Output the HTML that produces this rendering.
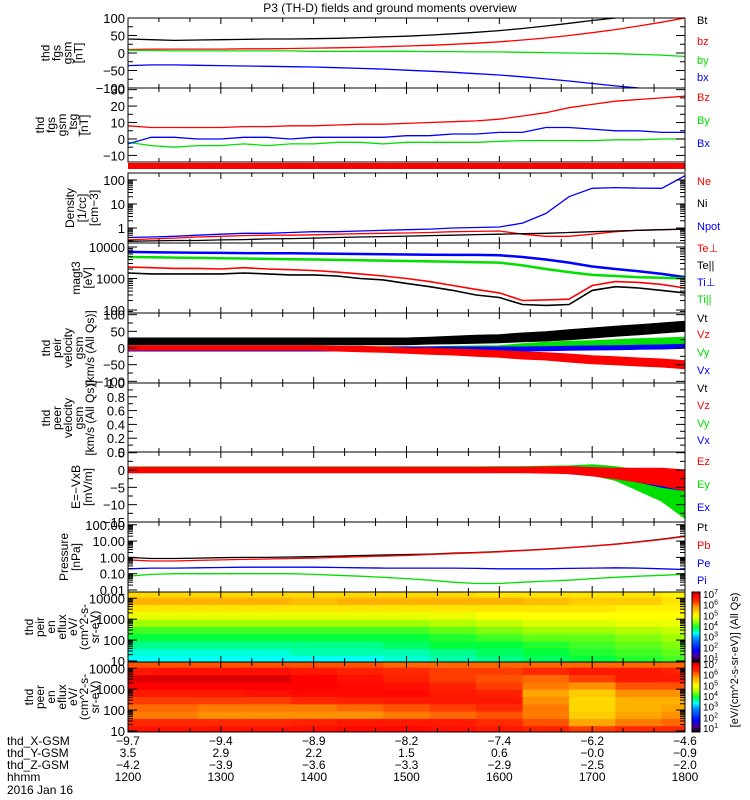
<!DOCTYPE html>
<html><head><meta charset="utf-8"><style>
html,body{margin:0;padding:0;background:#fff}
svg{display:block;font-family:"Liberation Sans",sans-serif}
</style></head><body>
<svg id="chart" width="750" height="800" xmlns="http://www.w3.org/2000/svg">
<text x="390" y="12" font-size="12" text-anchor="middle">P3 (TH-D) fields and ground moments overview</text>
</svg>
<script>
const times=[12,12.25,12.5,12.75,13,13.25,13.5,13.75,14,14.25,14.5,14.75,15,15.25,15.5,15.75,16,16.25,16.5,16.75,17,17.25,17.5,17.75,18];
// panel 1 fgs
const Bt=[40,38,36,37,38,39,40,40,41,42,44,46,48,51,55,59,64,70,77,85,93,100,108,115,122];
const bz=[10,11,11,11,11,12,12,13,14,15,16,18,20,22,25,28,32,37,43,50,58,67,77,88,100];
const by=[8,7,6,6,6,6,6,6,5,5,5,5,5,4,4,3,3,2,1,0,-1,-2,-4,-6,-10];
const bx=[-36,-34,-34,-35,-36,-37,-38,-39,-40,-42,-44,-46,-49,-52,-55,-59,-63,-68,-74,-80,-87,-94,-100,-106,-112];
// panel 2
const Bz2=[8,7,7,7,7,7.5,7.5,8,8,8.5,9,9,9.5,10,10.5,11,12,14,16,19,21,23,24,25,26];
const By2=[-2,-4,-5,-4,-4,-3,-4,-3,-3,-2,-2,-3,-2,-2,-2,-2,-1.5,-1,-1,-1,-1,-0.5,-0.5,0,0];
const Bx2=[-3,1,1,0,0,1,1,0,1,1,1,1,2,2,3,3,4,4,7,7,6,5,5,4,4];
// density
const Ne=[0.32,0.35,0.38,0.42,0.45,0.48,0.5,0.5,0.52,0.55,0.58,0.6,0.62,0.65,0.7,0.72,0.75,0.55,0.45,0.45,0.55,0.7,0.8,0.85,0.9];
const Ni=[0.28,0.29,0.3,0.3,0.32,0.33,0.35,0.36,0.38,0.4,0.42,0.44,0.46,0.48,0.5,0.53,0.55,0.58,0.6,0.65,0.7,0.75,0.8,0.85,0.9];
const Npot=[0.4,0.42,0.45,0.5,0.55,0.6,0.6,0.65,0.7,0.7,0.75,0.8,0.85,0.9,1.0,1.05,1.1,1.6,4,20,45,48,46,45,150];
// temperatures
const TePerp=[2300,2200,2100,2100,2000,2200,2000,1900,1800,1600,1400,1200,1000,800,600,450,350,200,210,220,600,800,750,650,500];
const TePar=[1500,1400,1400,1400,1400,1500,1400,1300,1300,1200,1000,900,700,550,420,300,250,150,140,150,420,550,500,420,350];
const TiPerp=[7000,6800,6700,6600,6500,6400,6300,6300,6200,6100,6000,5900,5800,5700,5600,5600,5500,4800,4000,3200,2400,2000,1700,1400,1100];
const TiPar=[4800,4700,4600,4500,4400,4300,4200,4100,4000,3900,3800,3700,3600,3500,3400,3300,3200,2600,2000,1600,1300,1200,1100,1050,1000];
// ion velocity (center and noise amplitude)
const Vt=[20,20,20,20,20,20,20,20,20,20,20,20,20,22,24,26,28,32,35,40,45,50,55,60,65];
const VtAmp=[10,10,10,10,10,10,10,10,10,10,10,10,10,10,11,12,12,13,14,15,15,15,15,15,15];
const Vz=[0,0,0,0,0,0,0,0,0,-2,-3,-5,-8,-10,-12,-15,-18,-22,-25,-30,-35,-38,-42,-45,-50];
const VzAmp=[7,7,7,7,7,7,7,7,7,7,8,8,8,9,9,10,10,11,11,12,12,12,12,12,12];
const Vy=[0,0,0,0,0,0,0,0,0,0,0,0,0,0,0,0,0,5,8,10,12,15,18,20,22];
const VyAmp=[4,4,4,4,4,4,4,4,4,4,4,4,4,4,5,6,7,8,9,10,10,10,10,10,10];
const Vx=[-3,-3,-3,-3,-3,-3,-3,-3,-3,-3,-3,-3,-3,-3,-3,-3,-3,-3,-2,-1,0,1,2,3,5];
const VxAmp=[6,6,6,6,6,6,6,6,6,6,6,6,6,6,6,6,6,6,6,6,6,6,6,6,6];
// E field
const Ez=[0,0,0,0,0,0,0,0,0,0,0,0,0,0,0,0,0,0,0,0,-0.5,-1,-1.5,-2,-3];
const EzAmp=[0.8,0.8,0.8,0.8,0.8,0.8,0.8,0.8,0.8,0.8,0.8,0.8,0.8,0.8,0.8,0.8,0.8,0.8,0.9,1,1.2,1.5,2,2.5,3];
const Ey=[0.5,0.5,0.5,0.5,0.5,0.5,0.5,0.5,0.5,0.5,0.5,0.5,0.5,0.5,0.5,0.5,0.5,0.4,0.3,0.2,0,-1,-3,-5,-9];
const EyAmp=[0.4,0.4,0.4,0.4,0.4,0.4,0.4,0.4,0.4,0.4,0.4,0.4,0.4,0.4,0.4,0.4,0.5,0.6,0.8,1,1.5,2,3,4,5];
const Ex=[0,0,0,0,0,0,0,0,0,0,0,0,0,0,0,0,0,0,0,-0.3,-0.6,-1,-2,-3,-4];
const ExAmp=[0.3,0.3,0.3,0.3,0.3,0.3,0.3,0.3,0.3,0.3,0.3,0.3,0.3,0.3,0.3,0.3,0.4,0.5,0.6,0.8,1,1.2,1.5,2,2];
// pressure
const Pt=[1.0,0.85,0.85,0.9,0.95,1.0,1.0,1.05,1.1,1.2,1.3,1.4,1.5,1.6,1.8,2.0,2.3,2.7,3.2,4,5,6.5,9,13,20];
const Pb=[0.7,0.6,0.6,0.65,0.7,0.75,0.8,0.85,0.9,1.0,1.1,1.2,1.3,1.5,1.7,1.9,2.2,2.6,3.1,3.9,4.9,6.3,8.8,12.5,19];
const Pe=[0.2,0.22,0.22,0.23,0.24,0.25,0.25,0.25,0.25,0.24,0.23,0.22,0.22,0.22,0.22,0.21,0.2,0.2,0.2,0.21,0.22,0.23,0.22,0.2,0.18];
const Pi=[0.07,0.09,0.1,0.1,0.1,0.1,0.1,0.1,0.09,0.08,0.07,0.06,0.05,0.04,0.03,0.025,0.025,0.03,0.035,0.04,0.05,0.06,0.07,0.08,0.09];
// spectrograms: columns every 0.5 h, rows high->low energy (log10 eV)
const specTimes=[12,12.5,13,13.5,14,14.5,15,15.5,16,16.5,17,17.5,18];
const specEnergies=[4.2,3.85,3.5,3.15,2.8,2.45,2.1,1.75,1.4,1.05];
const ionFlux=[
[5.3,5.3,5.3,5.3,5.3,5.3,5.3,5.3,5.2,5.2,5.2,5.2,5.1],
[5.6,5.6,5.6,5.6,5.5,5.6,5.6,5.6,5.6,5.5,5.4,5.4,5.2],
[5.2,5.2,5.2,5.2,5.2,5.2,5.2,5.2,5.2,5.2,5.2,5.1,5.1],
[4.9,4.9,4.9,4.9,4.9,4.9,4.9,4.9,5.0,5.0,5.0,5.0,5.0],
[4.5,4.5,4.5,4.5,4.5,4.5,4.5,4.6,4.7,4.8,4.8,4.9,4.9],
[4.2,4.2,4.2,4.2,4.2,4.2,4.2,4.3,4.4,4.5,4.5,4.6,4.7],
[4.0,4.0,4.0,4.0,4.0,4.0,4.0,4.1,4.2,4.3,4.3,4.4,4.5],
[3.8,3.8,3.8,3.8,3.8,3.8,3.9,4.0,4.0,4.1,4.2,4.3,4.4],
[3.6,3.6,3.6,3.6,3.7,3.7,3.7,3.8,3.9,4.0,4.1,4.2,4.3],
[3.5,3.5,3.5,3.5,3.5,3.5,3.6,3.7,3.8,3.9,4.0,4.1,4.2]];
const eleFlux=[
[6.1,6.1,6.1,6.1,6.1,6.1,6.0,6.0,6.0,6.0,6.0,6.0,6.0],
[6.5,6.6,6.6,6.6,6.5,6.4,6.3,6.2,6.2,6.3,6.5,6.5,6.4],
[6.9,6.9,6.9,6.9,6.8,6.6,6.4,6.2,6.1,6.0,6.2,6.5,6.5],
[6.8,6.8,6.8,6.8,6.8,6.7,6.6,6.4,6.2,5.9,5.8,6.1,6.1],
[6.5,6.5,6.5,6.6,6.7,6.7,6.7,6.5,6.4,5.7,5.4,5.8,5.8],
[6.2,6.2,6.2,6.2,6.3,6.4,6.5,6.5,6.5,5.8,5.3,5.6,5.6],
[6.0,6.0,5.9,5.9,5.9,6.0,6.1,6.2,6.3,5.9,5.3,5.6,5.7],
[5.9,5.9,5.8,5.8,5.8,5.8,5.9,6.0,6.1,5.9,5.4,5.7,5.8],
[6.3,6.3,6.3,6.3,6.4,6.5,6.5,6.5,6.3,6.1,5.7,5.9,6.0],
[6.6,6.6,6.6,6.6,6.6,6.7,6.7,6.6,6.5,6.4,6.2,6.3,6.3]];
const hourTicks=[12,13,14,15,16,17,18];
const xGsm=["-9.7","-9.4","-8.9","-8.2","-7.4","-6.2","-4.6"];
const yGsm=["3.5","2.9","2.2","1.5","0.6","-0.0","-0.9"];
const zGsm=["-4.2","-3.9","-3.6","-3.3","-2.9","-2.5","-2.0"];
const hhmm=["1200","1300","1400","1500","1600","1700","1800"];

const NS="http://www.w3.org/2000/svg";
const svg=document.getElementById('chart');
const X0=128,X1=685;
function xScale(t){return X0+(t-12)/6*(X1-X0);}
function mk(tag,attrs,parent){const e=document.createElementNS(NS,tag);for(const k in attrs)e.setAttribute(k,attrs[k]);(parent||svg).appendChild(e);return e;}
function linY(d0,d1,y0,y1){return v=>y0+(v-d0)/(d1-d0)*(y1-y0);}
function logY(d0,d1,y0,y1){return v=>y0+(Math.log10(Math.max(v,1e-9))-d0)/(d1-d0)*(y1-y0);}

function clip(id,top,bot){const cp=mk('clipPath',{id:id});mk('rect',{x:X0,y:top,width:X1-X0,height:bot-top},cp);}

function frame(name,top,bot){
  const g=mk('g',{});
  
  
  mk('rect',{x:X0,y:top,width:X1-X0,height:bot-top,fill:'none',stroke:'#000','stroke-width':1},g);
  for(let m=0;m<=18;m++){const t=12+m/3;const x=xScale(t);const L=(m%3==0)?6:4;
    mk('line',{x1:x,x2:x,y1:top,y2:top+L,stroke:'#000'},g);
    mk('line',{x1:x,x2:x,y1:bot,y2:bot-L,stroke:'#000'},g);}
  return g;
}
function yTicks(name,top,bot,ticks,labels,ys,minor){
  const g=mk('g',{});
  
  
  ticks.forEach((v,i)=>{const y=ys(v);
    mk('line',{x1:X0,x2:X0+9,y1:y,y2:y,stroke:'#000'},g);
    mk('line',{x1:X1,x2:X1-9,y1:y,y2:y,stroke:'#000'},g);
    const tx=mk('text',{x:X0-3,y:y+5,'font-size':13,'text-anchor':'end'},g);tx.textContent=labels[i];});
  (minor||[]).forEach(v=>{const y=ys(v);if(y<top||y>bot)return;
    mk('line',{x1:X0,x2:X0+5,y1:y,y2:y,stroke:'#000'},g);
    mk('line',{x1:X1,x2:X1-5,y1:y,y2:y,stroke:'#000'},g);});
}
function logMinor(a,b){const r=[];for(let d=a;d<b;d++)for(let k=2;k<=9;k++)r.push(k*Math.pow(10,d));return r;}
function line(name,vals,ys,color,clipId,w){
  const p=mk('polyline',{points:vals.map((v,i)=>xScale(times[i]).toFixed(1)+','+ys(v).toFixed(1)).join(' '),fill:'none',stroke:color,'stroke-width':w||1.3,'clip-path':'url(#'+clipId+')'});
  
  
}
function band(name,vals,amp,ys,color,clipId){
  const up=vals.map((v,i)=>xScale(times[i]).toFixed(1)+','+ys(v+amp[i]).toFixed(1));
  const lo=vals.map((v,i)=>xScale(times[i]).toFixed(1)+','+ys(v-amp[i]).toFixed(1)).reverse();
  const p=mk('polygon',{points:up.concat(lo).join(' '),fill:color,stroke:color,'stroke-width':1,'clip-path':'url(#'+clipId+')'});
  
  
}
function leftLabel(name,lines,cx,cy,lh){
  const g=mk('g',{transform:'translate('+cx+','+cy+') rotate(-90)'});
  
  
  const n=lines.length;
  lines.forEach((s,i)=>{const t=mk('text',{x:0,y:(i-(n-1)/2)*lh+4,'font-size':12,'text-anchor':'middle'},g);t.textContent=s;});
}
function rightLabels(items){
  items.forEach(it=>{const t=mk('text',{x:697,y:it[2],'font-size':11,fill:it[1]});
    
    
    t.textContent=it[0];});
}
const K='#000',R='#ff0000',G='#00e000',B='#0000ff';

// Panel 1
let ys=linY(-100,100,88,18);clip('c1',18,88);
line('bt-line',Bt,ys,K,'c1');line('bz-line',bz,ys,R,'c1');line('by-line',by,ys,G,'c1');line('bx-line',bx,ys,B,'c1');
frame('fgs-gsm',18,88);yTicks('fgs-gsm',18,88,[100,50,0,-50,-100],['100','50','0','\u221250','\u2212100'],ys,[75,25,-25,-75]);
leftLabel('fgs-gsm-y-title',['thd','fgs','gsm','[nT]'],62,53,11);
rightLabels([['Bt',K,24],['bz',R,45],['by',G,64],['bx',B,81]]);

// Panel 2
ys=linY(-14,31,162,88);clip('c2',88,162);
line('bz2-line',Bz2,ys,R,'c2');line('by2-line',By2,ys,G,'c2');line('bx2-line',Bx2,ys,B,'c2');
frame('fgs-dsl',88,162);yTicks('fgs-dsl',88,162,[30,20,10,0,-10],['30','20','10','0','\u221210'],ys,[25,15,5,-5]);
leftLabel('fgs-dsl-y-title',['thd','fgs','gsm','_tsg','[nT]'],62,125,11);
rightLabels([['Bz',R,101],['By',G,124],['Bx',B,147]]);
// red flag bar
const rb=mk('rect',{x:X0,y:163,width:X1-X0,height:6,fill:'#ff0000'});


mk('line',{x1:X1,x2:X1,y1:162,y2:172,stroke:'#000'});

// Density
ys=logY(-0.625,2.29,243,173);clip('c3',173,243);
line('ne-line',Ne,ys,R,'c3');line('ni-line',Ni,ys,K,'c3');line('npot-line',Npot,ys,B,'c3');
frame('density',173,243);yTicks('density',173,243,[100,10,1],['100','10','1'],ys,logMinor(-1,3));
leftLabel('density-y-title',['Density','[1/cc]','[cm\u22123]'],82,208,12);
rightLabels([['Ne',R,185],['Ni',K,207],['Npot',B,230]]);

// Temperature
ys=logY(1.905,4.127,313,243);clip('c4',243,313);
line('ti-perp-line',TiPerp,ys,B,'c4',2.5);line('ti-par-line',TiPar,ys,G,'c4',2.5);
line('te-perp-line',TePerp,ys,R,'c4',1.6);line('te-par-line',TePar,ys,K,'c4',1.6);
frame('temperature',243,313);yTicks('temperature',243,313,[10000,1000,100],['10000','1000','100'],ys,logMinor(1,4));
leftLabel('temperature-y-title',['magt3','[eV]'],82,278,12);
rightLabels([['Te\u22a5',R,252],['Te||',K,269],['Ti\u22a5',B,286],['Ti||',G,303]]);

// Velocity
ys=linY(-105,105,383,313);clip('c5',313,383);
band('vt-band',Vt,VtAmp,ys,K,'c5');band('vy-band',Vy,VyAmp,ys,G,'c5');band('vx-band',Vx,VxAmp,ys,B,'c5');band('vz-band',Vz,VzAmp,ys,R,'c5');
frame('ion-velocity',313,383);yTicks('ion-velocity',313,383,[100,50,0,-50,-100],['100','50','0','\u221250','\u2212100'],ys,[75,25,-25,-75]);
leftLabel('ion-velocity-y-title',['thd','peir','velocity','gsm','[km/s (All Qs)]'],68,348,11);
rightLabels([['Vt',K,322],['Vz',R,338],['Vy',G,356],['Vx',B,374]]);

// Electron velocity (empty)
ys=linY(0,1,452,383);
frame('electron-velocity',383,452);yTicks('electron-velocity',383,452,[1,0.8,0.6,0.4,0.2,0],['1.0','0.8','0.6','0.4','0.2','0.0'],ys,[0.9,0.7,0.5,0.3,0.1]);
leftLabel('electron-velocity-y-title',['thd','peer','velocity','gsm','[km/s (All Qs)]'],68,418,11);
rightLabels([['Vt',K,392],['Vz',R,409],['Vy',G,427],['Vx',B,444]]);

// E field
ys=linY(-15,5.2,522,452);clip('c7',452,522);
band('ey-band',Ey,EyAmp,ys,G,'c7');band('ex-band',Ex,ExAmp,ys,B,'c7');band('ez-band',Ez,EzAmp,ys,R,'c7');
frame('e-field',452,522);yTicks('e-field',452,522,[5,0,-5,-10,-15],['5','0','\u22125','\u221210','\u221215'],ys,[2.5,-2.5,-7.5,-12.5]);
leftLabel('e-field-y-title',['E=\u2212VxB','[mV/m]'],82,487,12);
rightLabels([['Ez',R,465],['Ey',G,488],['Ex',B,511]]);

// Pressure
ys=logY(-2,2.17,590,522);clip('c8',522,592);
line('pt-line',Pt,ys,K,'c8');line('pb-line',Pb,ys,R,'c8');line('pe-line',Pe,ys,B,'c8');line('pi-line',Pi,ys,G,'c8');
frame('pressure',522,592);yTicks('pressure',522,592,[100,10,1,0.1,0.01],['100.00','10.00','1.00','0.10','0.01'],ys,logMinor(-2,2));
leftLabel('pressure-y-title',['Pressure','[nPa]'],70,557,12);
rightLabels([['Pt',K,531],['Pb',R,549],['Pe',B,567],['Pi',B,584]]);

// Spectrograms
const stops=[[1,[0,0,0]],[1.5,[80,0,130]],[2,[0,0,255]],[3,[0,128,255]],[3.5,[0,255,255]],[4,[0,255,60]],[4.5,[160,255,0]],[5,[255,255,0]],[5.7,[255,165,0]],[6.3,[255,40,0]],[6.8,[255,0,0]],[7,[190,0,0]]];
function cmap(v){v=Math.max(1,Math.min(7,v));for(let i=1;i<stops.length;i++){if(v<=stops[i][0]){const a=stops[i-1],b=stops[i];const f=(v-a[0])/(b[0]-a[0]);return 'rgb('+[0,1,2].map(k=>Math.round(a[1][k]+f*(b[1][k]-a[1][k]))).join(',')+')';}}return 'rgb(190,0,0)';}
function spec(name,mat,top,bot){
  const eY=v=>bot+(v-0.95)/(4.3-0.95)*(top-bot);
  const dt=0.5;
  mat.forEach((row,r)=>row.forEach((v,c)=>{
    const x0=xScale(Math.max(12,specTimes[c]-dt/2)),x1=xScale(Math.min(18,specTimes[c]+dt/2));
    const de=(specEnergies[0]-specEnergies[1])/2;
    const y0=Math.max(top,eY(specEnergies[r]+de)),y1=Math.min(bot,eY(specEnergies[r]-de));
    const rc=mk('rect',{x:x0,y:y0,width:x1-x0+0.5,height:y1-y0+0.5,fill:cmap(v)});
    
    
  }));
  frame(name,top,bot);
  const ly=v=>bot+(Math.log10(v)-0.95)/(4.3-0.95)*(top-bot);
  yTicks(name,top,bot,[10000,1000,100,10],['10000','1000','100','10'],ly,logMinor(1,4));
  // colorbar
  const n=30;const cg=mk('g',{});
  
  
  for(let i=0;i<n;i++){const v=1+6*(i+0.5)/n;const h=(bot-top)/n;mk('rect',{x:692,y:bot-(i+1)*h,width:8,height:h+0.5,fill:cmap(v)},cg);}
  mk('rect',{x:692,y:top,width:8,height:bot-top,fill:'none',stroke:'#000'},cg);
  for(let p=1;p<=7;p++){const y=bot-(p-1)/6*(bot-top-6)-4;const t=mk('text',{x:703,y:y+4,'font-size':10},cg);t.textContent='10';const s=mk('tspan',{dy:-4,'font-size':7},t);s.textContent=p;}
}
spec('ion-spectrogram',ionFlux,592,662);
spec('electron-spectrogram',eleFlux,662,732);
leftLabel('ion-spectrogram-y-title',['thd','peir','en','eflux','eV/','(cm^2-s-','sr-eV)'],62,627,11);
leftLabel('electron-spectrogram-y-title',['thd','peer','en','eflux','eV/','(cm^2-s-','sr-eV)'],62,697,11);
const cbl=mk('text',{x:0,y:0,'font-size':11,'text-anchor':'middle',transform:'translate(738,660) rotate(-90)'});


cbl.textContent='[eV/(cm^2-s-sr-eV)] (All Qs)';

// bottom annotation
const rowsY=[745,757,769,781];
[['thd_X-GSM',xGsm],['thd_Y-GSM',yGsm],['thd_Z-GSM',zGsm],['hhmm',hhmm]].forEach((r,ri)=>{
  const t=mk('text',{x:7,y:rowsY[ri],'font-size':12});
  
  
  t.textContent=r[0];
  r[1].forEach((s,i)=>{const v=mk('text',{x:xScale(hourTicks[i]),y:rowsY[ri],'font-size':12,'text-anchor':'middle'});
    
    
    v.textContent=s.replace('-','\u2212');});
});
const dt=mk('text',{x:7,y:794,'font-size':12});


dt.textContent='2016 Jan 16';
</script>
</body></html>
